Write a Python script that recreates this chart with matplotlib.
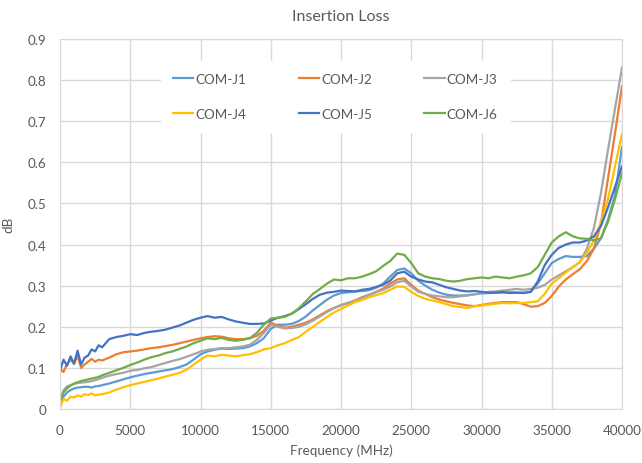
import numpy as np
import matplotlib
matplotlib.use('Agg')
import matplotlib.pyplot as plt

plt.rcParams['font.family'] = ['Lato', 'DejaVu Sans']

# frequency points (MHz): fine steps at the low end, then every 500
freq = np.concatenate([np.arange(0, 3001, 250), np.arange(3500, 40001, 500)])

com_j1 = [0.016, 0.03, 0.04, 0.046, 0.05, 0.052, 0.053, 0.054, 0.054, 0.052, 0.055, 0.056, 0.058,
          0.062, 0.067, 0.072, 0.077, 0.081, 0.085, 0.088, 0.091, 0.094, 0.097, 0.102, 0.108, 0.12,
          0.133, 0.14, 0.144, 0.147, 0.146, 0.147, 0.148, 0.152, 0.16, 0.172, 0.195, 0.205, 0.205,
          0.207, 0.214, 0.225, 0.24, 0.253, 0.266, 0.276, 0.282, 0.284, 0.286, 0.287, 0.289, 0.295,
          0.305, 0.322, 0.338, 0.342, 0.33, 0.312, 0.3, 0.29, 0.283, 0.278, 0.276, 0.276, 0.277,
          0.279, 0.281, 0.282, 0.283, 0.283, 0.284, 0.283, 0.283, 0.285, 0.305, 0.33, 0.355, 0.365,
          0.372, 0.37, 0.37, 0.372, 0.39, 0.415, 0.46, 0.52, 0.637]

com_j2 = [0.097, 0.09, 0.11, 0.12, 0.11, 0.13, 0.1, 0.108, 0.115, 0.122, 0.115, 0.12, 0.118,
          0.125, 0.133, 0.138, 0.14, 0.142, 0.145, 0.148, 0.15, 0.153, 0.156, 0.16, 0.164, 0.168,
          0.172, 0.175, 0.177, 0.176, 0.172, 0.17, 0.17, 0.172, 0.178, 0.19, 0.21, 0.203, 0.198,
          0.2, 0.205, 0.21, 0.218, 0.228, 0.238, 0.246, 0.252, 0.258, 0.264, 0.272, 0.278, 0.285,
          0.293, 0.305, 0.315, 0.318, 0.302, 0.288, 0.28, 0.272, 0.266, 0.262, 0.258, 0.255, 0.252,
          0.25, 0.253, 0.256, 0.258, 0.26, 0.26, 0.26, 0.255, 0.249, 0.25, 0.258, 0.275, 0.298,
          0.315, 0.328, 0.34, 0.36, 0.39, 0.45, 0.56, 0.67, 0.785]

com_j3 = [0.02, 0.045, 0.055, 0.058, 0.061, 0.063, 0.064, 0.065, 0.066, 0.068, 0.07, 0.073, 0.076,
          0.081, 0.085, 0.088, 0.093, 0.095, 0.099, 0.102, 0.107, 0.112, 0.117, 0.121, 0.127, 0.133,
          0.14, 0.144, 0.146, 0.148, 0.148, 0.15, 0.152, 0.156, 0.168, 0.185, 0.205, 0.2, 0.196,
          0.197, 0.2, 0.206, 0.215, 0.225, 0.236, 0.245, 0.253, 0.258, 0.263, 0.27, 0.277, 0.284,
          0.29, 0.298, 0.308, 0.312, 0.298, 0.285, 0.28, 0.276, 0.274, 0.272, 0.272, 0.274, 0.276,
          0.279, 0.283, 0.285, 0.286, 0.288, 0.29, 0.292, 0.29, 0.292, 0.295, 0.302, 0.315, 0.325,
          0.335, 0.345, 0.357, 0.39, 0.44, 0.525, 0.63, 0.73, 0.83]

com_j4 = [0.003, 0.025, 0.02, 0.03, 0.028, 0.033, 0.03, 0.036, 0.034, 0.038, 0.033, 0.035, 0.036,
          0.04, 0.047, 0.053, 0.058, 0.062, 0.066, 0.07, 0.074, 0.079, 0.083, 0.088, 0.095, 0.108,
          0.12, 0.13, 0.128, 0.132, 0.13, 0.128, 0.131, 0.133, 0.138, 0.145, 0.148, 0.155, 0.16,
          0.168, 0.175, 0.188, 0.2, 0.212, 0.224, 0.235, 0.243, 0.252, 0.26, 0.265, 0.272, 0.277,
          0.282, 0.29, 0.298, 0.297, 0.285, 0.275, 0.268, 0.264, 0.26, 0.255, 0.25, 0.248, 0.246,
          0.25, 0.252, 0.254, 0.256, 0.258, 0.257, 0.258, 0.258, 0.26, 0.262, 0.28, 0.305, 0.318,
          0.332, 0.345, 0.357, 0.38, 0.41, 0.455, 0.51, 0.59, 0.669]

com_j5 = [0.093, 0.12, 0.105, 0.128, 0.11, 0.142, 0.108, 0.125, 0.13, 0.145, 0.14, 0.155, 0.15,
          0.17, 0.175, 0.178, 0.182, 0.18, 0.185, 0.188, 0.19, 0.193, 0.198, 0.203, 0.21, 0.217,
          0.222, 0.226, 0.222, 0.224, 0.218, 0.213, 0.21, 0.207, 0.207, 0.208, 0.215, 0.222, 0.226,
          0.232, 0.243, 0.255, 0.268, 0.278, 0.283, 0.285, 0.288, 0.287, 0.286, 0.29, 0.292, 0.297,
          0.302, 0.312, 0.33, 0.334, 0.322, 0.315, 0.31, 0.308, 0.302, 0.296, 0.292, 0.288, 0.286,
          0.287, 0.285, 0.283, 0.283, 0.285, 0.282, 0.283, 0.282, 0.285, 0.31, 0.35, 0.375, 0.392,
          0.4, 0.405, 0.405, 0.41, 0.42, 0.445, 0.49, 0.54, 0.59]

com_j6 = [0.02, 0.04, 0.05, 0.057, 0.062, 0.065, 0.068, 0.07, 0.072, 0.074, 0.076, 0.078, 0.082,
          0.088, 0.094, 0.1, 0.107, 0.113, 0.12, 0.126, 0.13, 0.136, 0.14, 0.146, 0.152, 0.16,
          0.166, 0.172, 0.17, 0.173, 0.168, 0.166, 0.168, 0.172, 0.185, 0.205, 0.22, 0.222, 0.224,
          0.232, 0.245, 0.262, 0.28, 0.292, 0.305, 0.315, 0.313, 0.318, 0.318, 0.322, 0.328, 0.335,
          0.348, 0.36, 0.378, 0.375, 0.355, 0.33, 0.322, 0.318, 0.316, 0.312, 0.31, 0.312, 0.316,
          0.318, 0.32, 0.318, 0.322, 0.32, 0.318, 0.322, 0.325, 0.33, 0.345, 0.375, 0.405, 0.42,
          0.43, 0.42, 0.415, 0.414, 0.41, 0.415, 0.455, 0.51, 0.574]

labels = ['COM-J1', 'COM-J2', 'COM-J3', 'COM-J4', 'COM-J5', 'COM-J6']
colors = ['#5B9BD5', '#ED7D31', '#A5A5A5', '#FFC000', '#4472C4', '#70AD47']
series = [com_j1, com_j2, com_j3, com_j4, com_j5, com_j6]

txt = '#595959'
grid = '#D9D9D9'

fig = plt.figure(figsize=(6.42, 4.64), dpi=100)
ax = fig.add_axes([60 / 642, 1 - 410 / 464, 562 / 642, 370 / 464])

lines = []
for y, c, lab in zip(series, colors, labels):
    ln, = ax.plot(freq, y, color=c, lw=1.6, label=lab, solid_joinstyle='round')
    lines.append(ln)

ax.set_xlim(0, 40000)
ax.set_ylim(0, 0.9)
ax.set_xticks(np.arange(0, 40001, 5000))
ax.set_yticks(np.arange(0, 0.91, 0.1))
ax.set_yticklabels(['0'] + ['%.1f' % v for v in np.arange(0.1, 0.91, 0.1)])
ax.grid(True, color=grid, lw=1)
ax.set_axisbelow(True)
for s in ax.spines.values():
    s.set_color(grid)
ax.tick_params(length=0, colors=txt, labelsize=9.7)
ax.tick_params(axis='x', pad=11)
ax.tick_params(axis='y', pad=10)

ax.set_title('Insertion Loss', color=txt, fontsize=11.5, pad=14)
ax.set_xlabel('Frequency (MHz)', color=txt, fontsize=9.7, labelpad=5)
ax.set_ylabel('dB', color=txt, fontsize=9.7, labelpad=9)

# matplotlib fills legend columns first, so reorder to get J1 J2 J3 / J4 J5 J6 in rows
order = [0, 3, 1, 4, 2, 5]
leg = ax.legend([lines[i] for i in order], [labels[i] for i in order], ncol=3,
                loc='center', bbox_to_anchor=(0.49, 0.845), frameon=True,
                fontsize=9.7, handlelength=1.5, handletextpad=0.15, columnspacing=3.9,
                labelspacing=1.7, borderpad=0.9, fancybox=False)
leg.get_frame().set_facecolor('white')
leg.get_frame().set_edgecolor('white')
leg.get_frame().set_alpha(1)
for t in leg.get_texts():
    t.set_color(txt)

fig.savefig('out.png', dpi=100)
